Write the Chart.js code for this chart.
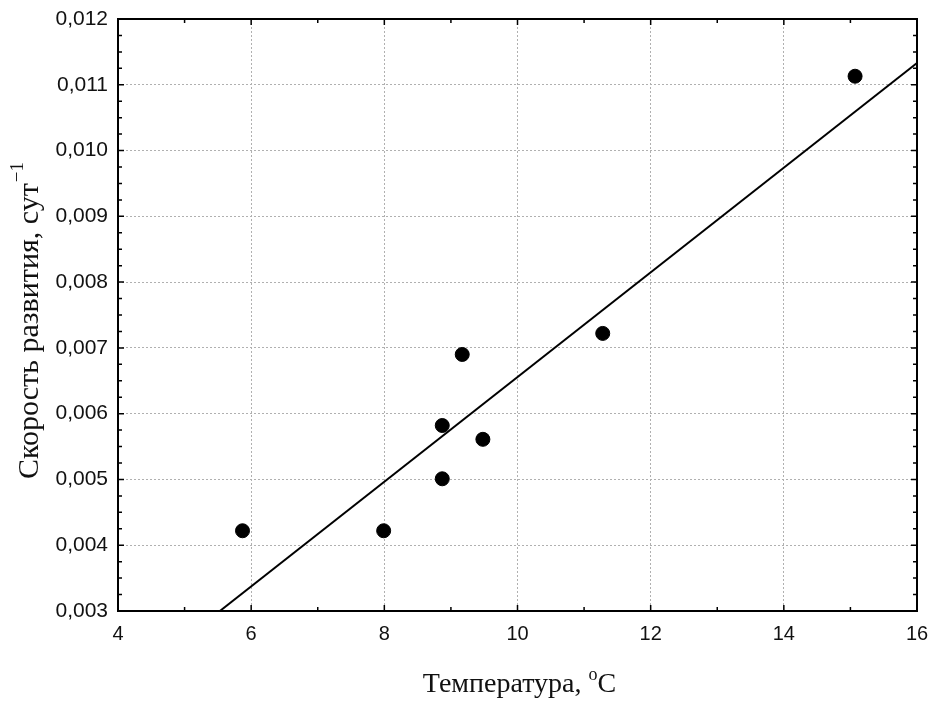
<!DOCTYPE html>
<html>
<head>
<meta charset="utf-8">
<script src="https://cdn.jsdelivr.net/npm/chart.js@4"></script>
<style>
  html, body { margin: 0; padding: 0; background: #fff; }
  #wrap { width: 934px; height: 702px; }
</style>
</head>
<body>
<div id="wrap"><canvas id="chart" width="934" height="702"></canvas></div>
<script>
// Observed points (temperature, development rate)
const temps = [5.87, 7.99, 8.87, 8.87, 9.17, 9.48, 11.28, 15.07];
const rates = [0.00422, 0.00422, 0.00582, 0.00501, 0.0069, 0.00561, 0.00722, 0.01113];

// Fitted line endpoints
const fitX = [5.53, 16];
const fitY = [0.003, 0.01133];

// Axis ranges
const xRange = [4, 16, 2];
const yRange = [0.003, 0.012, 0.001];

const xTitle = 'Температура, ';
const xTitleSup = 'o';
const xTitleEnd = 'C';
const yTitle = 'Скорость развития, сут';
const yTitleSup = '\u22121';

// Draw the frame, inward ticks and axis titles with superscripts
const framePlugin = {
    id: 'frame',
    afterDraw(chart) {
        const ctx = chart.ctx;
        const a = chart.chartArea;
        const xs = chart.scales.x, ys = chart.scales.y;
        ctx.save();
        ctx.strokeStyle = '#000';

        // minor and major ticks on all four sides
        ctx.lineWidth = 1.5;
        ctx.beginPath();
        for (let v = xRange[0]; v <= xRange[1] + 1e-9; v += xRange[2] / 2) {
            const px = xs.getPixelForValue(v);
            const len = (Math.round(v / xRange[2] * 2) % 2 === 0) ? 6 : 4;
            ctx.moveTo(px, a.bottom); ctx.lineTo(px, a.bottom - len);
            ctx.moveTo(px, a.top); ctx.lineTo(px, a.top + len);
        }
        for (let v = yRange[0]; v <= yRange[1] + 1e-9; v += yRange[2] / 4) {
            const py = ys.getPixelForValue(v);
            const len = (Math.round(v / yRange[2] * 4) % 4 === 0) ? 6 : 4;
            ctx.moveTo(a.left, py); ctx.lineTo(a.left + len, py);
            ctx.moveTo(a.right, py); ctx.lineTo(a.right - len, py);
        }
        ctx.stroke();

        // frame
        ctx.lineWidth = 2;
        ctx.strokeRect(a.left, a.top, a.right - a.left, a.bottom - a.top);

        ctx.fillStyle = '#111';
        ctx.textBaseline = 'alphabetic';
        ctx.textAlign = 'left';
        const serif = '"Liberation Serif", "Times New Roman", serif';

        // x title
        let big = '28px ' + serif, small = '18px ' + serif;
        ctx.font = big;
        const w1 = ctx.measureText(xTitle).width;
        const w3 = ctx.measureText(xTitleEnd).width;
        ctx.font = small;
        const w2 = ctx.measureText(xTitleSup).width;
        const x0 = (a.left + a.right) / 2 + 2 - (w1 + w2 + w3) / 2;
        const by = 692;
        ctx.font = big;
        ctx.fillText(xTitle, x0, by);
        ctx.font = small;
        ctx.fillText(xTitleSup, x0 + w1, by - 12);
        ctx.font = big;
        ctx.fillText(xTitleEnd, x0 + w1 + w2, by);

        // y title (rotated)
        big = '30px ' + serif; small = '19px ' + serif;
        ctx.translate(38, (a.top + a.bottom) / 2 + 6);
        ctx.rotate(-Math.PI / 2);
        ctx.font = big;
        const t1 = ctx.measureText(yTitle).width;
        ctx.font = small;
        const t2 = ctx.measureText(yTitleSup).width;
        const sx = -(t1 + t2) / 2;
        ctx.font = big;
        ctx.fillText(yTitle, sx, 0);
        ctx.font = small;
        ctx.fillText(yTitleSup, sx + t1 + 1, -15);
        ctx.restore();
    }
};

const ctx = document.getElementById('chart').getContext('2d');
new Chart(ctx, {
    type: 'scatter',
    data: {
        datasets: [
            {
                label: 'fit',
                type: 'line',
                data: fitX.map((x, i) => ({ x: x, y: fitY[i] })),
                borderColor: '#000',
                borderWidth: 2,
                pointRadius: 0,
                fill: false,
                order: 2
            },
            {
                label: 'data',
                data: temps.map((x, i) => ({ x: x, y: rates[i] })),
                backgroundColor: '#000',
                borderColor: '#000',
                pointRadius: 7,
                pointHoverRadius: 7,
                order: 1
            }
        ]
    },
    options: {
        responsive: false,
        animation: false,
        devicePixelRatio: 1,
        layout: { padding: { left: 0, right: 17, top: 19, bottom: 0 } },
        plugins: {
            legend: { display: false },
            tooltip: { enabled: false }
        },
        scales: {
            x: {
                type: 'linear',
                min: xRange[0],
                max: xRange[1],
                ticks: {
                    stepSize: xRange[2],
                    padding: 11,
                    color: '#111',
                    font: { family: '"Liberation Sans", Arial, sans-serif', size: 20 }
                },
                grid: {
                    color: '#b0b0b0',
                    lineWidth: 1,
                    drawTicks: false
                },
                border: { display: false, dash: [2, 2] },
                afterFit(s) { s.height = 91; s.paddingLeft = 0; s.paddingRight = 0; }
            },
            y: {
                type: 'linear',
                min: yRange[0],
                max: yRange[1],
                ticks: {
                    stepSize: yRange[2],
                    padding: 10,
                    color: '#111',
                    font: { family: '"Liberation Sans", Arial, sans-serif', size: 21 },
                    callback: v => v.toFixed(3).replace('.', ',')
                },
                grid: {
                    color: '#b0b0b0',
                    lineWidth: 1,
                    drawTicks: false
                },
                border: { display: false, dash: [2, 2] },
                afterFit(s) { s.width = 118; s.paddingTop = 0; s.paddingBottom = 0; }
            }
        }
    },
    plugins: [framePlugin]
});
</script>
</body>
</html>
